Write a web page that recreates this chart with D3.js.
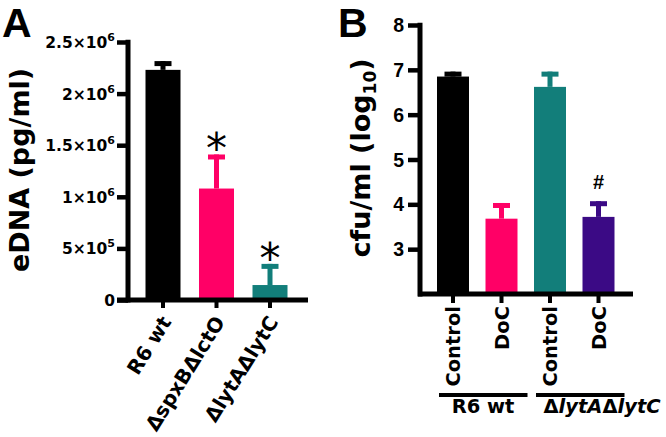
<!DOCTYPE html>
<html><head><meta charset="utf-8">
<script src="https://cdn.jsdelivr.net/npm/d3@7/dist/d3.min.js"></script>
<style>body{margin:0;background:#fff}svg{display:block}</style>
</head><body><svg id="c" width="666" height="437"></svg>
<script>
// ---------- data ----------
const catsA = ["R6 wt", "ΔspxBΔlctO", "ΔlytAΔlytC"];
const meanA = [2230000, 1080000, 145000];
const semA  = [85000, 330000, 205000];
const sigA  = ["", "*", "*"];
const ticksA = [0, 500000, 1000000, 1500000, 2000000, 2500000];
const tickBaseA = ["0", "5×10", "1×10", "1.5×10", "2×10", "2.5×10"];
const tickSupA  = ["", "5", "6", "6", "6", "6"];

const catsB = ["Control", "DoC", "Control", "DoC"];
const meanB = [6.85, 3.68, 6.62, 3.72];
const semB  = [0.11, 0.35, 0.34, 0.35];
const sigB  = ["", "", "", "#"];
const ticksB = [3, 4, 5, 6, 7, 8];
const groupsB = ["R6 wt", "ΔlytAΔlytC"];

const colorsA = ["#000000", "#ff0066", "#127e7a"];
const colorsB = ["#000000", "#ff0066", "#127e7a", "#3b0a85"];

// ---------- drawing ----------
const svg = d3.select("#c");
const LAB = "'DejaVu Sans', sans-serif";
const ARI = "'Liberation Sans', Arial, sans-serif";

function italicLabel(sel, txt){
  const parts = txt.split(/(Δ)/).filter(s => s.length);
  parts.forEach(p => {
    sel.append("tspan").text(p).attr("font-style", p === "Δ" || txt === "R6 wt" ? "normal" : "italic");
  });
}

// ===== Panel A =====
const yA = d3.scaleLinear().domain([0, 2500000]).range([300, 42]);
const xA = d3.scalePoint().domain(d3.range(catsA.length)).range([163, 270]);
const bwA = 35;
const gA = svg.append("g");

gA.append("text").attr("x", 2).attr("y", 37).attr("font-family", ARI)
  .attr("font-weight", "bold").attr("font-size", 41).text("A");

gA.selectAll("rect.bar").data(meanA).join("rect")
  .attr("x", (d, i) => xA(i) - bwA / 2).attr("width", bwA)
  .attr("y", d => yA(d)).attr("height", d => yA(0) - yA(d))
  .attr("fill", (d, i) => colorsA[i]);
meanA.forEach((m, i) => {
  const top = yA(m + semA[i]);
  gA.append("rect").attr("x", xA(i) - 2.5).attr("width", 5)
    .attr("y", top).attr("height", yA(m) - top).attr("fill", colorsA[i]);
  gA.append("rect").attr("x", xA(i) - 8.5).attr("width", 17)
    .attr("y", top).attr("height", 5).attr("fill", colorsA[i]);
  if (sigA[i]) {
    gA.append("text").attr("x", xA(i)).attr("y", top + 9)
      .attr("text-anchor", "middle").attr("font-family", LAB).attr("font-size", 42)
      .text(sigA[i]);
  }
});

const axA = d3.axisLeft(yA).tickValues(ticksA).tickSize(11).tickFormat("");
const gyA = gA.append("g").attr("transform", "translate(128,0)").call(axA);
gyA.select(".domain").remove();
gyA.selectAll(".tick line").attr("stroke", "#000").attr("stroke-width", 4.5);
gA.append("line").attr("x1", 128).attr("x2", 128).attr("y1", yA(2500000) - 2.2).attr("y2", yA(0) + 2.5)
  .attr("stroke", "#000").attr("stroke-width", 5);
gA.append("line").attr("x1", 117).attr("x2", 308).attr("y1", yA(0)).attr("y2", yA(0))
  .attr("stroke", "#000").attr("stroke-width", 5);
ticksA.forEach((t, i) => {
  const tx = gA.append("text").attr("x", 115).attr("y", yA(t) + 6)
    .attr("text-anchor", "end").attr("font-family", LAB).attr("font-weight", "bold")
    .attr("font-size", 15.5);
  tx.append("tspan").text(tickBaseA[i]);
  if (tickSupA[i]) tx.append("tspan").attr("dy", -7).attr("font-size", 11).text(tickSupA[i]);
});
catsA.forEach((c, i) => {
  gA.append("rect").attr("x", xA(i) - 2).attr("width", 4).attr("y", yA(0)).attr("height", 8).attr("fill", "#000");
  gA.append("text")
    .attr("transform", `translate(${xA(i) + 3},${318}) rotate(-58)`)
    .attr("text-anchor", "end").attr("dy", "0.36em")
    .attr("font-family", LAB).attr("font-weight", "bold").attr("font-size", 20)
    .text(c);
});
gA.append("text").attr("transform", `translate(29,170) rotate(-90)`)
  .attr("text-anchor", "middle").attr("font-family", LAB).attr("font-weight", "bold")
  .attr("font-size", 27).text("eDNA (pg/ml)");

// ===== Panel B =====
const yB = d3.scaleLinear().domain([2, 8]).range([294, 25]);
const xB = d3.scalePoint().domain(d3.range(catsB.length)).range([453, 598.5]);
const bwB = 32;
const gB = svg.append("g");

gB.append("text").attr("x", 338).attr("y", 37).attr("font-family", ARI)
  .attr("font-weight", "bold").attr("font-size", 41).text("B");

gB.selectAll("rect.bar").data(meanB).join("rect")
  .attr("x", (d, i) => xB(i) - bwB / 2).attr("width", bwB)
  .attr("y", d => yB(d)).attr("height", d => yB(2) - yB(d))
  .attr("fill", (d, i) => colorsB[i]);
meanB.forEach((m, i) => {
  const top = yB(m + semB[i]);
  gB.append("rect").attr("x", xB(i) - 2.5).attr("width", 5)
    .attr("y", top).attr("height", yB(m) - top).attr("fill", colorsB[i]);
  gB.append("rect").attr("x", xB(i) - 8.5).attr("width", 17)
    .attr("y", top).attr("height", 5).attr("fill", colorsB[i]);
  if (sigB[i]) {
    gB.append("text").attr("x", xB(i)).attr("y", top - 12)
      .attr("text-anchor", "middle").attr("font-family", ARI).attr("font-weight", "bold")
      .attr("font-size", 20).text(sigB[i]);
  }
});

const axB = d3.axisLeft(yB).tickValues(ticksB).tickSize(12).tickFormat("");
const gyB = gB.append("g").attr("transform", "translate(420,0)").call(axB);
gyB.select(".domain").remove();
gyB.selectAll(".tick line").attr("stroke", "#000").attr("stroke-width", 4.5);
gB.append("line").attr("x1", 420).attr("x2", 420).attr("y1", yB(8) - 2.2).attr("y2", yB(2) + 2.5)
  .attr("stroke", "#000").attr("stroke-width", 5);
gB.append("line").attr("x1", 418).attr("x2", 633).attr("y1", yB(2)).attr("y2", yB(2))
  .attr("stroke", "#000").attr("stroke-width", 5);
ticksB.forEach(t => {
  gB.append("text").attr("x", 404).attr("y", yB(t) + 7)
    .attr("text-anchor", "end").attr("font-family", ARI).attr("font-weight", "bold")
    .attr("font-size", 19.5).text(t);
});
catsB.forEach((c, i) => {
  gB.append("rect").attr("x", xB(i) - 2).attr("width", 4).attr("y", yB(2)).attr("height", 9).attr("fill", "#000");
  gB.append("text").attr("transform", `translate(${xB(i)},306) rotate(-90)`)
    .attr("text-anchor", "end").attr("dy", "0.36em")
    .attr("font-family", LAB).attr("font-weight", "bold").attr("font-size", 19.5).text(c);
});
[[0, 1], [2, 3]].forEach((g, j) => {
  const x1 = xB(g[0]) - 14, x2 = xB(g[1]) + 26;
  gB.append("line").attr("x1", x1).attr("x2", x2).attr("y1", 395).attr("y2", 395)
    .attr("stroke", "#000").attr("stroke-width", 4);
  const t = gB.append("text").attr("x", j === 0 ? 483 : 602).attr("y", 413)
    .attr("text-anchor", "middle").attr("font-family", LAB).attr("font-weight", "bold")
    .attr("font-size", 19.5);
  italicLabel(t, groupsB[j]);
});
const tB = gB.append("text").attr("transform", `translate(370,158) rotate(-90)`)
  .attr("text-anchor", "middle").attr("font-family", LAB).attr("font-weight", "bold")
  .attr("font-size", 27);
tB.append("tspan").text("cfu/ml (log");
tB.append("tspan").attr("font-size", 17).attr("dy", 6).text("10");
tB.append("tspan").attr("dy", -6).text(")");
</script></body></html>
